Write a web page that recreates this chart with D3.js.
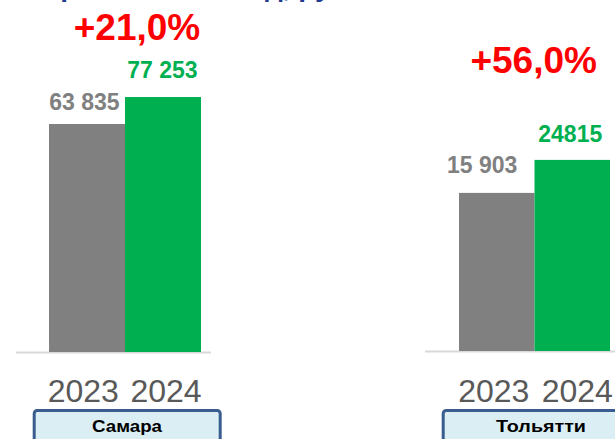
<!DOCTYPE html>
<html>
<head>
<meta charset="utf-8">
<script src="https://cdn.jsdelivr.net/npm/d3@7"></script>
<style>
  html, body { margin: 0; padding: 0; background: #fff; }
  svg { display: block; }
  text { font-family: "Liberation Sans", Arial, sans-serif; }
</style>
</head>
<body>
<svg id="chart" width="615" height="439"></svg>
<script>
const title = "Сравнение за год, руб.";
const years = ["2023", "2024"];
const cities = ["Самара", "Тольятти"];
const samaraValues = [63835, 77253];
const tolyattiValues = [15903, 24815];
const samaraLabels = ["63 835", "77 253"];
const tolyattiLabels = ["15 903", "24815"];
const growthLabels = ["+21,0%", "+56,0%"];

const colors = ["#808080", "#00b050"];

// each city is its own little chart, with its own axis
const panels = [
    {
        city: cities[0], values: samaraValues, labels: samaraLabels, growth: growthLabels[0],
        xRange: [49, 201], domain: [-49500, 80000], yRange: [352, 91.5],
        labelDx: [-2.5, -0.5], labelGap: [14, 19],
        growthX: 137, growthY: 40,
        yearDx: [-3.7, 3], baseLine: [16, 211],
        box: {x: 34.2, w: 186, cx: 127, textW: 70}
    },
    {
        city: cities[1], values: tolyattiValues, labels: tolyattiLabels, growth: growthLabels[1],
        xRange: [459, 610], domain: [-26800, 30000], yRange: [351, 140.7],
        labelDx: [-14.5, -2], labelGap: [20, 18],
        growthX: 533.7, growthY: 73,
        yearDx: [-3, 5], baseLine: [425, 615],
        box: {x: 443.2, w: 200, cx: 541, textW: 90}
    }
];

const svg = d3.select("#chart");

// title mostly cut off at the top edge
svg.append("text")
    .attr("x", 40)
    .attr("y", -4)
    .attr("fill", "#1f3a8f")
    .attr("font-weight", "bold")
    .attr("font-size", 28)
    .text(title);

panels.forEach(p => {
    const x = d3.scaleBand()
        .domain(years)
        .range(p.xRange)
        .padding(0);

    const y = d3.scaleLinear()
        .domain(p.domain)
        .range(p.yRange);

    const g = svg.append("g").attr("class", "panel");

    g.append("line")
        .attr("x1", p.baseLine[0])
        .attr("x2", p.baseLine[1])
        .attr("y1", y(p.domain[0]) + 0.5)
        .attr("y2", y(p.domain[0]) + 0.5)
        .attr("stroke", "#d9d9d9")
        .attr("stroke-width", 1.8);

    const data = years.map((yr, i) => ({year: yr, value: p.values[i], label: p.labels[i], i: i}));

    g.selectAll("rect.bar")
        .data(data)
        .enter()
        .append("rect")
        .attr("class", "bar")
        .attr("x", d => x(d.year))
        .attr("width", x.bandwidth())
        .attr("y", d => y(d.value))
        .attr("height", d => y(p.domain[0]) - y(d.value))
        .attr("fill", d => colors[d.i]);

    g.selectAll("text.value")
        .data(data)
        .enter()
        .append("text")
        .attr("class", "value")
        .attr("x", d => x(d.year) + x.bandwidth() / 2 + p.labelDx[d.i])
        .attr("y", d => y(d.value) - p.labelGap[d.i])
        .attr("text-anchor", "middle")
        .attr("font-weight", "bold")
        .attr("font-size", 23)
        .attr("fill", d => colors[d.i])
        .text(d => d.label);

    g.append("text")
        .attr("x", p.growthX)
        .attr("y", p.growthY)
        .attr("text-anchor", "middle")
        .attr("font-weight", "bold")
        .attr("font-size", 37)
        .attr("fill", "#ff0000")
        .text(p.growth);

    g.selectAll("text.year")
        .data(data)
        .enter()
        .append("text")
        .attr("class", "year")
        .attr("x", d => x(d.year) + x.bandwidth() / 2 + p.yearDx[d.i])
        .attr("y", 401.7)
        .attr("text-anchor", "middle")
        .attr("font-size", 32)
        .attr("fill", "#595959")
        .text(d => d.year);

    g.append("rect")
        .attr("x", p.box.x)
        .attr("y", 410.5)
        .attr("width", p.box.w)
        .attr("height", 45)
        .attr("rx", 3)
        .attr("fill", "#dbeef4")
        .attr("stroke", "#3a5d8f")
        .attr("stroke-width", 3);

    g.append("text")
        .attr("x", p.box.cx - p.box.textW / 2)
        .attr("y", 432)
        .attr("font-family", "'Noto Sans', 'Open Sans', sans-serif")
        .attr("font-weight", "bold")
        .attr("font-size", 17)
        .attr("textLength", p.box.textW)
        .attr("lengthAdjust", "spacingAndGlyphs")
        .attr("fill", "#000")
        .text(p.city);
});
</script>
</body>
</html>
